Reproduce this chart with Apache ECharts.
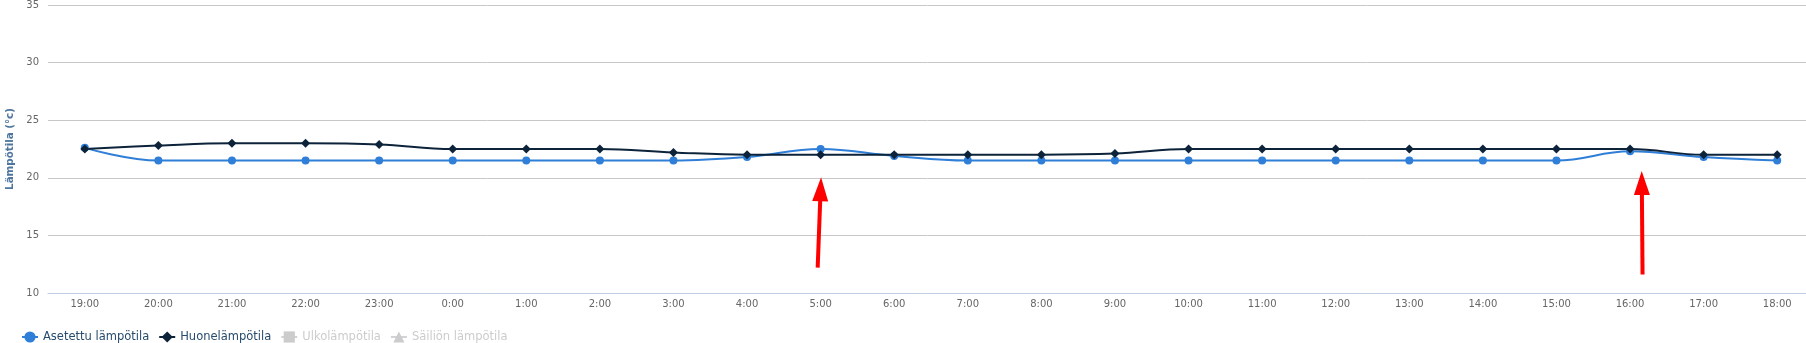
<!DOCTYPE html>
<html>
<head>
<meta charset="utf-8">
<script src="https://cdn.jsdelivr.net/npm/echarts@6/dist/echarts.min.js"></script>
<style>
html,body{margin:0;padding:0;background:#fff;}
#chart{width:1806px;height:343px;}
</style>
</head>
<body>
<div id="chart"></div>
<script>
var categories = ['19:00','20:00','21:00','22:00','23:00','0:00','1:00','2:00','3:00','4:00','5:00','6:00','7:00','8:00','9:00','10:00','11:00','12:00','13:00','14:00','15:00','16:00','17:00','18:00'];
var setTemp = [22.6,21.5,21.5,21.5,21.5,21.5,21.5,21.5,21.5,21.8,22.5,21.9,21.5,21.5,21.5,21.5,21.5,21.5,21.5,21.5,21.5,22.3,21.8,21.5];
var roomTemp = [22.5,22.8,23.0,23.0,22.9,22.5,22.5,22.5,22.2,22.0,22.0,22.0,22.0,22.0,22.1,22.5,22.5,22.5,22.5,22.5,22.5,22.5,22.0,22.0];
var outdoorTemp = [];
var tankTemp = [];
var seriesNames = ['Asetettu lämpötila','Huonelämpötila','Ulkolämpötila','Säiliön lämpötila'];
var yTicks = [10,15,20,25,30,35];
// annotation arrows: [x index, y value] start and head centre
var arrowStarts = [[9.96, 12.2], [21.17, 11.6]];
var arrowEnds = [[10.0, 19.0], [21.16, 19.55]];

var FONT = 'DejaVu Sans';
var chart = echarts.init(document.getElementById('chart'));
var arrowLines = arrowStarts.map(function (s, i) {
  return [
    {coord: s, symbol: 'none'},
    {coord: arrowEnds[i], symbol: 'triangle', symbolSize: [16, 24]}
  ];
});
chart.setOption({
  animation: false,
  textStyle: {fontFamily: FONT},
  grid: {left: 48, top: 5, width: 1766, height: 288, containLabel: false, outerBoundsMode: 'none'},
  legend: {
    data: seriesNames,
    left: 16, top: 326,
    itemWidth: 16, itemHeight: 14, itemGap: 9,
    textStyle: {color: '#274b6d', fontSize: 11.5, fontFamily: FONT},
    inactiveColor: '#cccccc',
    selected: {'Ulkolämpötila': false, 'Säiliön lämpötila': false}
  },
  xAxis: [{
    type: 'category',
    data: categories,
    boundaryGap: true,
    axisLine: {lineStyle: {color: '#c0d0e0', width: 1}},
    axisTick: {alignWithLabel: true, length: 5, lineStyle: {color: '#c0d0e0'}},
    axisLabel: {color: '#666666', fontSize: 10, margin: 6, fontFamily: FONT, interval: 0},
    splitLine: {show: false}
  }, {
    type: 'value', show: false, min: -0.5, max: categories.length - 0.5
  }],
  yAxis: {
    type: 'value',
    min: yTicks[0], max: yTicks[yTicks.length - 1], interval: 5,
    name: 'Lämpötila (°c)',
    nameLocation: 'middle',
    nameGap: 32,
    nameTextStyle: {color: '#4d759e', fontWeight: 'bold', fontSize: 10.3, fontFamily: FONT},
    axisLine: {show: false},
    axisTick: {show: false},
    axisLabel: {color: '#666666', fontSize: 10, margin: 9, fontFamily: FONT},
    splitLine: {lineStyle: {color: '#c8c8c8', width: 1}}
  },
  series: [{
    name: seriesNames[0], type: 'line', data: setTemp, smooth: 0.4,
    symbol: 'circle', symbolSize: 8, showAllSymbol: true,
    itemStyle: {color: '#2f7ed8'}, lineStyle: {color: '#2f7ed8', width: 2}
  }, {
    name: seriesNames[1], type: 'line', data: roomTemp, smooth: 0.4,
    symbol: 'diamond', symbolSize: 9, showAllSymbol: true,
    itemStyle: {color: '#0d233a'}, lineStyle: {color: '#0d233a', width: 2}
  }, {
    name: seriesNames[2], type: 'line', data: outdoorTemp,
    symbol: 'rect', symbolSize: 8,
    itemStyle: {color: '#8bbc21'}, lineStyle: {width: 2}
  }, {
    name: seriesNames[3], type: 'line', data: tankTemp,
    symbol: 'triangle', symbolSize: 8,
    itemStyle: {color: '#910000'}, lineStyle: {width: 2}
  }, {
    name: 'arrows', type: 'line', xAxisIndex: 1, data: [],
    itemStyle: {color: '#ff0000'},
    markLine: {
      silent: true, animation: false,
      symbol: ['none', 'triangle'],
      label: {show: false},
      itemStyle: {color: '#ff0000'},
      lineStyle: {color: '#ff0000', width: 4, type: 'solid', opacity: 1},
      emphasis: {disabled: true},
      data: arrowLines
    }
  }]
});
</script>
</body>
</html>
